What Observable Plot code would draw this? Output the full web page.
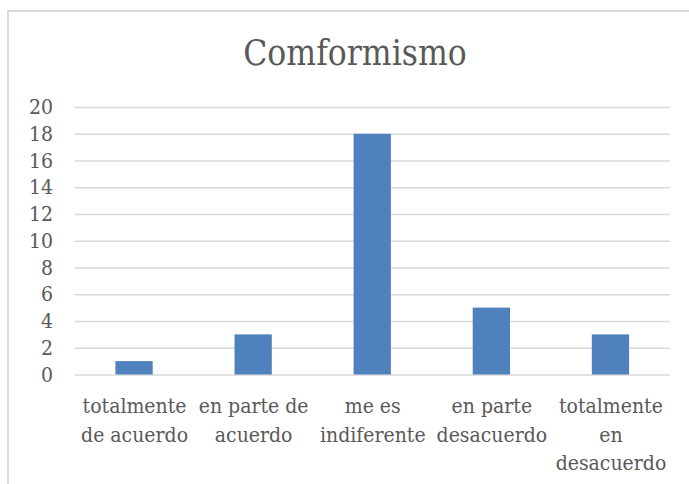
<!DOCTYPE html>
<html>
<head>
<meta charset="utf-8">
<script src="https://cdn.jsdelivr.net/npm/d3@7"></script>
<script src="https://cdn.jsdelivr.net/npm/@observablehq/plot@0.6"></script>
<style>
  html, body { margin: 0; padding: 0; background: #fff; }
  #frame { position: absolute; left: 7px; top: 10px; width: 690px; height: 490px; border: 2px solid #d9d9d9; box-sizing: border-box; }
  #wrap { position: absolute; left: 0; top: 0; width: 689px; height: 484px; }
  #title { position: absolute; left: 0; top: 0; width: 710px; height: 85px; text-align: center;
           font-family: "DejaVu Serif Condensed", "DejaVu Serif", serif; font-stretch: condensed;
           font-size: 35px; color: #595959; line-height: 85px; padding-top: 11px; box-sizing: border-box; }
  #chart { position: absolute; left: 0; top: 85px; }
</style>
</head>
<body>
<div id="frame"></div>
<div id="wrap">
  <div id="title">Comformismo</div>
  <div id="chart"></div>
</div>
<script>
const categories = ["totalmente\nde acuerdo", "en parte de\nacuerdo", "me es\nindiferente", "en parte\ndesacuerdo", "totalmente\nen\ndesacuerdo"];
const values = [1, 3, 18, 5, 3];
const yTicks = [0, 2, 4, 6, 8, 10, 12, 14, 16, 18, 20];

const data = categories.map((c, i) => ({category: c, value: values[i]}));

const plot = Plot.plot({
  width: 689,
  height: 399,
  marginLeft: 74.5,
  marginRight: 19,
  marginTop: 22,
  marginBottom: 109.5,
  style: {fontFamily: '"DejaVu Serif Condensed", "DejaVu Serif", serif', fontStretch: "condensed", fontSize: "21px", color: "#595959", background: "transparent", overflow: "visible"},
  x: {domain: categories, paddingInner: 0.687, paddingOuter: 0.3435, round: false},
  y: {domain: [0, 20]},
  marks: [
    Plot.gridY(yTicks, {stroke: "#d9d9d9", strokeOpacity: 1, strokeWidth: 1.5}),
    Plot.barY(data, {x: "category", y: "value", fill: "#4f81bd", inset: 0}),
    Plot.axisY(yTicks, {tickSize: 0, tickPadding: 22, label: null, fontSize: 21}),
    Plot.axisX({tickSize: 0, tickPadding: 18, label: null, lineHeight: 1.36, fontSize: 21})
  ]
});
document.getElementById("chart").appendChild(plot);
</script>
</body>
</html>
